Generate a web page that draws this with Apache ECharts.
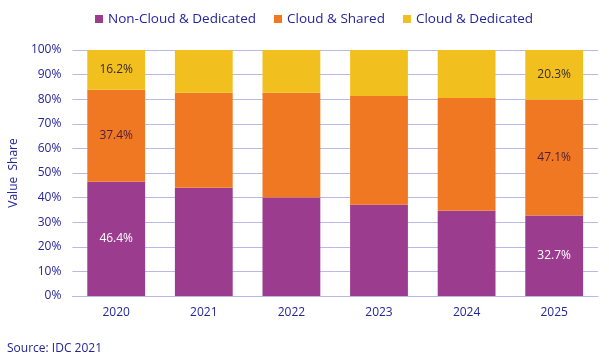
<!DOCTYPE html>
<html>
<head>
<meta charset="utf-8">
<script src="https://cdn.jsdelivr.net/npm/echarts@6/dist/echarts.min.js"></script>
<style>html,body{margin:0;padding:0;background:#fff}#c{width:609px;height:358px}</style>
</head>
<body>
<div id="c"></div>
<script>
const categories = ['2020', '2021', '2022', '2023', '2024', '2025'];
const nonCloudDedicated = [46.4, 44.0, 40.0, 37.1, 34.7, 32.7];
const cloudShared = [37.4, 38.6, 42.6, 44.2, 45.8, 47.1];
const cloudDedicated = [16.2, 17.4, 17.4, 18.7, 19.5, 20.3];
const labeledIndices = [0, 5];
const seriesNames = ['Non-Cloud & Dedicated', 'Cloud & Shared', 'Cloud & Dedicated'];

const FONT = 'Open Sans';
const NAVY = '#25259a';
const GRID = '#b9b9e8';

function mk(values, labelColor) {
  return values.map((v, i) => ({
    value: v,
    label: { show: labeledIndices.includes(i), color: labelColor }
  }));
}

const chart = echarts.init(document.getElementById('c'), null, { renderer: 'canvas' });
chart.setOption({
  animation: false,
  color: ['#9b3c8f', '#f07822', '#f2c01e'],
  textStyle: { fontFamily: FONT },
  title: {
    text: 'Source: IDC 2021',
    left: 2, top: 338,
    textStyle: { fontFamily: FONT, fontSize: 12, fontWeight: 'normal', color: NAVY }
  },
  legend: {
    top: 7, left: 90,
    itemWidth: 8, itemHeight: 8, itemGap: 18,
    icon: 'rect',
    textStyle: { fontFamily: FONT, fontSize: 13.5, color: NAVY, padding: [0, 0, 0, 0] },
    data: seriesNames
  },
  grid: { left: 69, right: 11, top: 50, bottom: 62 },
  xAxis: {
    type: 'category',
    data: categories,
    axisLine: { lineStyle: { color: GRID } },
    axisTick: { show: false },
    axisLabel: { color: NAVY, fontSize: 12, margin: 11, fontFamily: FONT }
  },
  yAxis: {
    type: 'value', min: 0, max: 100, interval: 10,
    name: 'Value  Share',
    nameLocation: 'middle', nameGap: 49,
    nameTextStyle: { color: NAVY, fontSize: 12, fontFamily: FONT },
    axisLine: { show: false },
    axisTick: { show: false },
    splitLine: { lineStyle: { color: GRID } },
    axisLabel: { color: NAVY, fontSize: 12, margin: 11, formatter: '{value}%', fontFamily: FONT }
  },
  series: [
    { name: seriesNames[0], type: 'bar', stack: 's', barCategoryGap: '34%', data: mk(nonCloudDedicated, '#ffffff'),
      label: { position: 'inside', formatter: '{c}%', fontSize: 12, fontFamily: FONT } },
    { name: seriesNames[1], type: 'bar', stack: 's', data: mk(cloudShared, '#4a1f3c'),
      label: { position: 'inside', formatter: '{c}%', fontSize: 12, fontFamily: FONT } },
    { name: seriesNames[2], type: 'bar', stack: 's', data: mk(cloudDedicated, '#3a2a2a'),
      label: { position: 'inside', formatter: '{c}%', fontSize: 12, fontFamily: FONT } }
  ]
});
</script>
</body>
</html>
